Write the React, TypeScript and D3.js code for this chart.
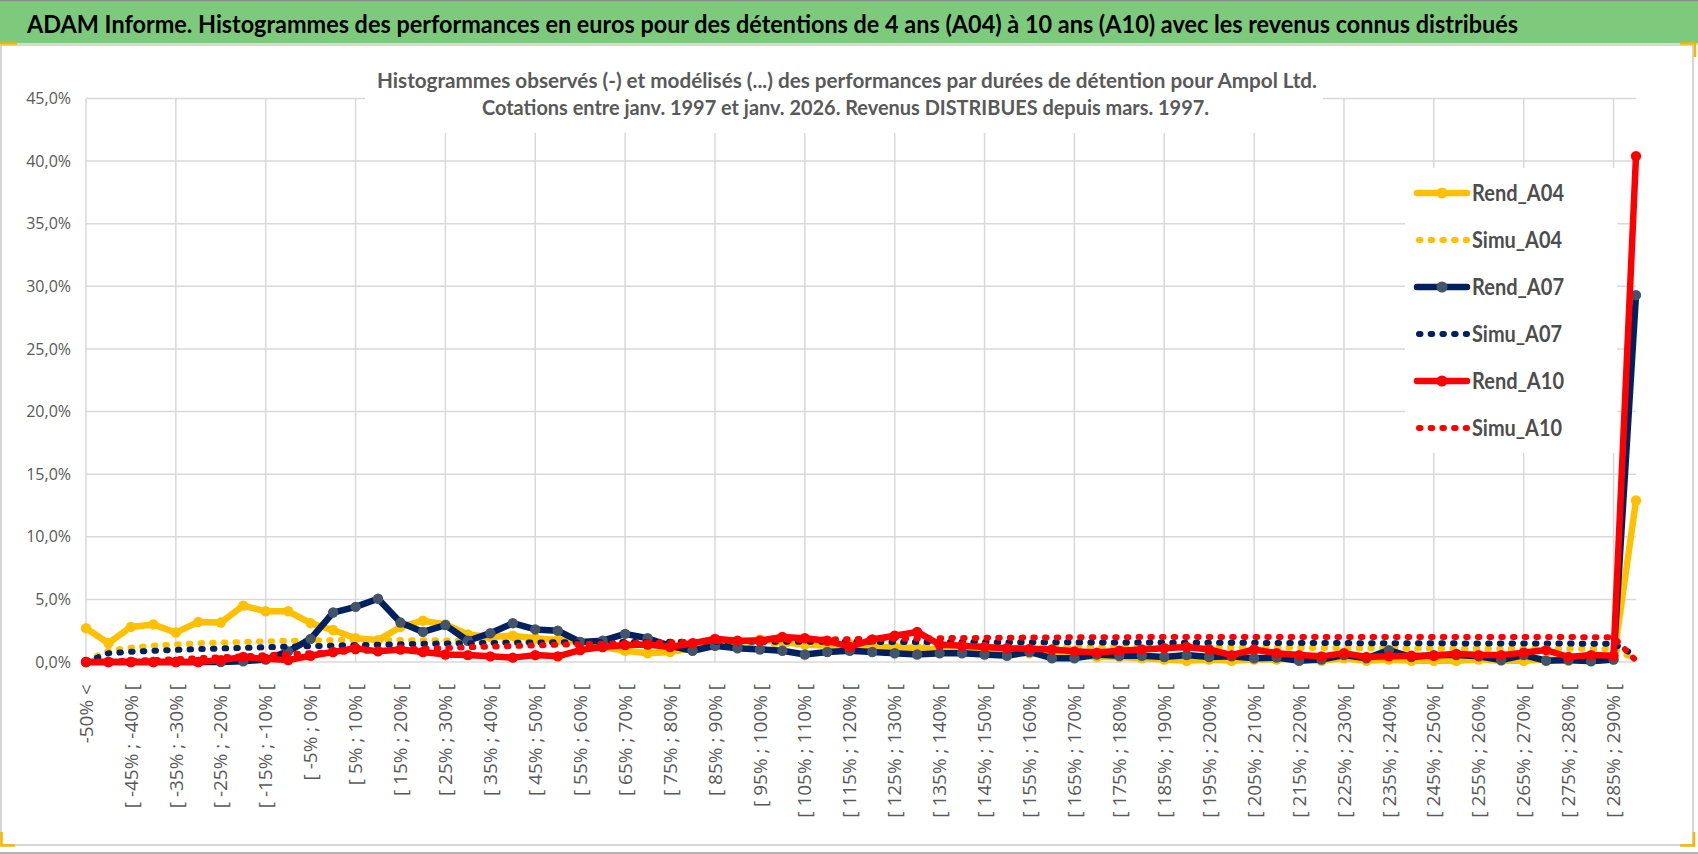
import React from 'react'
import * as d3 from 'd3'

// catégories : "-50% <" puis tranches de 5 %, dernière classe au-delà de 290 %
const binStarts = d3.range(-50, 290, 5)
const categories: string[] = ['-50% <', ...binStarts.map(b => `[ ${b}% ; ${b + 5}% [`), '> 290%']

const yTicks = [0, 5, 10, 15, 20, 25, 30, 35, 40, 45]

// valeurs en %
const rendA04 = [2.7, 1.5, 2.8, 3.0, 2.35, 3.2, 3.15, 4.5, 4.05, 4.05, 3.1, 2.55, 1.9, 1.75, 2.8, 3.3, 3.0, 2.2, 2.0, 2.1,
  1.9, 1.75, 1.6, 1.2, 0.9, 0.7, 0.8, 1.1, 1.5, 1.6, 1.8, 1.6, 1.4, 1.3, 1.4, 1.2, 1.2, 1.1, 1.0, 0.9,
  0.85, 0.8, 0.7, 0.6, 0.5, 0.4, 0.4, 0.3, 0.2, 0.1, 0.2, 0.1, 0.2, 0.2, 0.3, 0.1, 0.3, 0.1, 0.2, 0.1,
  0.1, 0.1, 0.2, 0.1, 0.1, 0.2, 0.1, 0.1, 0.2, 12.9]
const simuA04 = [0.1, 0.9, 1.15, 1.3, 1.4, 1.5, 1.55, 1.6, 1.65, 1.7, 1.72, 1.75, 1.75, 1.75, 1.75, 1.74, 1.72, 1.7, 1.68, 1.66,
  1.64, 1.62, 1.6, 1.58, 1.56, 1.54, 1.52, 1.5, 1.48, 1.46, 1.44, 1.42, 1.4, 1.38, 1.37, 1.35, 1.34, 1.32, 1.31, 1.3,
  1.28, 1.27, 1.26, 1.25, 1.24, 1.22, 1.21, 1.2, 1.19, 1.18, 1.17, 1.16, 1.15, 1.14, 1.13, 1.12, 1.11, 1.1, 1.09, 1.08,
  1.08, 1.07, 1.07, 1.06, 1.06, 1.05, 1.05, 1.05, 1.04, 0.2]
const rendA07 = [0, 0, 0, 0, 0, 0, 0, 0.05, 0.2, 0.85, 1.85, 3.95, 4.4, 5.05, 3.15, 2.4, 2.95, 1.7, 2.3, 3.1,
  2.6, 2.5, 1.6, 1.7, 2.25, 1.9, 1.3, 0.9, 1.3, 1.1, 1.0, 0.9, 0.6, 0.8, 0.9, 0.8, 0.7, 0.6, 0.7, 0.7,
  0.6, 0.5, 0.8, 0.3, 0.3, 0.6, 0.5, 0.5, 0.4, 0.55, 0.4, 0.45, 0.3, 0.35, 0.1, 0.2, 0.55, 0.3, 0.95, 0.4,
  0.55, 0.55, 0.45, 0.15, 0.55, 0.1, 0.15, 0.05, 0.2, 29.3]
const simuA07 = [0.0, 0.7, 0.82, 0.9, 0.97, 1.03, 1.08, 1.13, 1.18, 1.22, 1.27, 1.31, 1.35, 1.38, 1.42, 1.45, 1.48, 1.5, 1.52, 1.54,
  1.56, 1.57, 1.58, 1.59, 1.6, 1.6, 1.61, 1.61, 1.62, 1.62, 1.62, 1.62, 1.62, 1.62, 1.61, 1.61, 1.6, 1.6, 1.6, 1.59,
  1.59, 1.58, 1.58, 1.57, 1.57, 1.56, 1.56, 1.55, 1.55, 1.54, 1.54, 1.53, 1.53, 1.52, 1.52, 1.51, 1.51, 1.5, 1.5, 1.5,
  1.49, 1.49, 1.48, 1.48, 1.48, 1.47, 1.47, 1.46, 1.46, 0.5]
const rendA10 = [0, 0, 0, 0, 0, 0, 0.15, 0.4, 0.25, 0.15, 0.5, 0.8, 1.1, 0.85, 1.0, 0.8, 0.6, 0.55, 0.45, 0.35,
  0.55, 0.45, 0.95, 1.2, 1.35, 1.4, 1.2, 1.5, 1.85, 1.7, 1.7, 2.0, 1.9, 1.7, 1.2, 1.8, 2.1, 2.4, 1.4, 1.3,
  1.2, 1.1, 1.05, 1.0, 0.85, 0.75, 0.9, 1.0, 1.1, 1.2, 1.0, 0.55, 1.0, 0.7, 0.55, 0.45, 0.7, 0.4, 0.45, 0.5,
  0.5, 0.65, 0.55, 0.55, 0.75, 0.95, 0.4, 0.55, 0.5, 40.4]
const simuA10 = [0.0, 0.05, 0.1, 0.15, 0.22, 0.3, 0.38, 0.46, 0.54, 0.62, 0.7, 0.78, 0.86, 0.93, 1.0, 1.06, 1.12, 1.18, 1.23, 1.28,
  1.33, 1.38, 1.42, 1.46, 1.5, 1.54, 1.58, 1.62, 1.65, 1.68, 1.71, 1.74, 1.77, 1.8, 1.82, 1.84, 1.86, 1.88, 1.9, 1.92,
  1.93, 1.94, 1.95, 1.96, 1.97, 1.98, 1.98, 1.99, 1.99, 2.0, 2.0, 2.0, 2.0, 2.0, 2.0, 2.0, 2.0, 2.0, 2.0, 2.0,
  2.0, 2.0, 2.0, 2.0, 1.99, 1.99, 1.99, 1.98, 1.98, 0.1]

interface Serie {
  name: string
  values: number[]
  color: string
  marker?: string
  dotted: boolean
}

const series: Serie[] = [
  { name: 'Rend_A04', values: rendA04, color: '#FFC000', marker: '#FFC000', dotted: false },
  { name: 'Simu_A04', values: simuA04, color: '#FFC000', dotted: true },
  { name: 'Rend_A07', values: rendA07, color: '#002060', marker: '#44546A', dotted: false },
  { name: 'Simu_A07', values: simuA07, color: '#002060', dotted: true },
  { name: 'Rend_A10', values: rendA10, color: '#FF0000', marker: '#FF0000', dotted: false },
  { name: 'Simu_A10', values: simuA10, color: '#FF0000', dotted: true },
]

const W = 1698
const H = 854
const DOTS = '1.5 10.2'

export default function App() {
  const x = d3.scalePoint<string>().domain(categories).range([86, 1636]).padding(0)
  const y = d3.scaleLinear().domain([0, 45]).range([662, 98.5])
  const fmt = (v: number) => d3.format('.1f')(v).replace('.', ',') + '%'

  const line = d3.line<number>()
    .x((_, i) => x(categories[i]) as number)
    .y(d => y(d))

  const legendX = 1417
  const legendY0 = 193
  const legendStep = 47

  return (
    <div style={{ position: 'absolute', left: 0, top: 0 }}>
      <svg width={W} height={H} style={{ display: 'block', background: '#fff' }}>
        {/* bandeau titre */}
        <rect x={0} y={0} width={W} height={43} fill="#7dca7d" />
        <line x1={0} x2={W} y1={0.5} y2={0.5} stroke="#8a8a8a" strokeWidth={1.5} />
        <text x={27} y={33} fontFamily="Lato, 'Open Sans', sans-serif" fontWeight="bold" fontSize={25}
          fill="#000" textLength={1491} lengthAdjust="spacingAndGlyphs">
          ADAM Informe. Histogrammes des performances en euros pour des détentions de 4 ans (A04) à 10 ans (A10) avec les revenus connus distribués
        </text>

        {/* zone de graphique */}
        <rect x={1} y={45} width={1692} height={800} fill="#fff" stroke="#c8c8c8" strokeWidth={1.5} />
        <line x1={0} x2={W} y1={44} y2={44} stroke="#d9d9d9" strokeWidth={2} />
        <line x1={0} x2={W} y1={853} y2={853} stroke="#9a9a9a" strokeWidth={1.5} />

        {/* poignées jaunes */}
        <g stroke="#F2B900" strokeWidth={2.5} fill="none">
          <path d="M0,43.5 H17" />
          <path d="M1680,43.5 H1695 V57" />
          <path d="M1.5,832 V845.5 H15" />
          <path d="M1680,845.5 H1694 V832" />
        </g>

        {/* grille */}
        <g stroke="#d9d9d9" strokeWidth={1.5}>
          {yTicks.map(t => (
            <line key={'h' + t} x1={86} x2={1636} y1={y(t)} y2={y(t)} />
          ))}
          {categories.map((c, i) => i % 4 === 0 ? (
            <line key={'v' + i} x1={x(c)} x2={x(c)} y1={y(45)} y2={y(0)} />
          ) : null)}
        </g>

        {/* axe Y */}
        <g fontFamily="'Open Sans', sans-serif" fontSize={16} fill="#595959" textAnchor="end">
          {yTicks.map(t => (
            <text key={'yl' + t} x={71} y={y(t)} dy="0.35em">{fmt(t)}</text>
          ))}
        </g>

        {/* axe X */}
        <g fontFamily="'Open Sans', sans-serif" fontSize={19} fill="#595959" textAnchor="end">
          {categories.map((c, i) => i % 2 === 0 && i < 69 ? (
            <text key={'xl' + i} transform={`translate(${x(c)},684) rotate(-90)`} dy="0.35em">{c}</text>
          ) : null)}
        </g>

        {/* titre du graphique */}
        <rect x={365} y={55} width={958} height={78} fill="#fff" />
        <g fontFamily="Lato, 'Open Sans', sans-serif" fontWeight="bold" fontSize={21.5} fill="#595959">
          <text x={377} y={88} textLength={940} lengthAdjust="spacingAndGlyphs">
            Histogrammes observés (-) et modélisés (...) des performances par durées de détention pour Ampol Ltd.
          </text>
          <text x={482} y={115} textLength={727} lengthAdjust="spacingAndGlyphs">
            Cotations entre janv. 1997 et janv. 2026. Revenus DISTRIBUES depuis mars. 1997.
          </text>
        </g>

        {/* légende */}
        <rect x={1405} y={168} width={212} height={285} fill="#fff" />
        {series.map((s, k) => {
          const cy = legendY0 + k * legendStep
          return (
            <g key={'lg' + s.name}>
              {s.dotted ? (
                <line x1={legendX + 2} x2={legendX + 50} y1={cy} y2={cy} stroke={s.color} strokeWidth={6}
                  strokeLinecap="round" strokeDasharray={DOTS} />
              ) : (
                <>
                  <line x1={legendX} x2={legendX + 50} y1={cy} y2={cy} stroke={s.color} strokeWidth={6.5} strokeLinecap="round" />
                  <circle cx={legendX + 25} cy={cy} r={5.5} fill={s.marker} />
                </>
              )}
              <text x={1472} y={cy} dy="0.36em" fontFamily="Lato, 'Open Sans', sans-serif" fontWeight="bold"
                fontSize={23} fill="#4d4d4d" textLength={s.name.startsWith('Rend') ? 92 : 90}
                lengthAdjust="spacingAndGlyphs">{s.name}</text>
            </g>
          )
        })}

        {/* séries */}
        {series.map(s => (
          <g key={s.name}>
            <path d={line(s.values) ?? ''} fill="none" stroke={s.color}
              strokeWidth={s.dotted ? 6 : 6.5} strokeLinejoin="round" strokeLinecap="round"
              strokeDasharray={s.dotted ? DOTS : undefined} />
            {!s.dotted && s.values.map((v, i) => (
              <circle key={i} cx={x(categories[i])} cy={y(v)} r={5.2} fill={s.marker} />
            ))}
          </g>
        ))}
      </svg>
    </div>
  )
}
